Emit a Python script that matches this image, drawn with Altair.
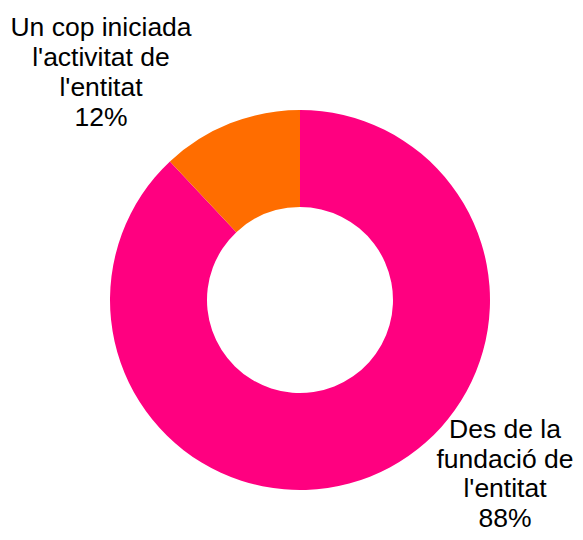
import altair as alt
import pandas as pd

categories = ["Des de la fundació de l'entitat", "Un cop iniciada l'activitat de l'entitat"]
labels = ["Des de la\nfundació de\nl'entitat", "Un cop iniciada\nl'activitat de\nl'entitat"]
values = [88, 12]
colors = ["#FF0080", "#FF6D00"]

df = pd.DataFrame({
    "cat": categories,
    "label": [f"{l}\n{v}%" for l, v in zip(labels, values)],
    "value": values,
    "order": list(range(len(values))),
})

cx, cy = 292, 292

arc = alt.Chart(df).mark_arc(outerRadius=190, innerRadius=93).encode(
    theta=alt.Theta("value:Q", stack=True),
    order=alt.Order("order:Q"),
    x=alt.value(cx),
    y=alt.value(cy),
    color=alt.Color("cat:N", scale=alt.Scale(domain=categories, range=colors), legend=None),
)

txt_common = dict(font="Liberation Sans", fontSize=26.5,
                  lineBreak="\n", align="center", baseline="alphabetic", color="#000000")

t1 = alt.Chart(df).transform_filter(alt.datum.order == 0).mark_text(lineHeight=29.5, **txt_common).encode(
    text="label:N", x=alt.value(497), y=alt.value(430)
)

t2 = alt.Chart(df).transform_filter(alt.datum.order == 1).mark_text(lineHeight=30.3, **txt_common).encode(
    text="label:N", x=alt.value(93), y=alt.value(27.5)
)

chart = alt.layer(arc, t1, t2).properties(
    width=567, height=524, padding=0,
    autosize=alt.AutoSizeParams(type="none"),
).configure_view(stroke=None)

chart.save("out.html", embed_options={"renderer": "svg", "actions": False})
